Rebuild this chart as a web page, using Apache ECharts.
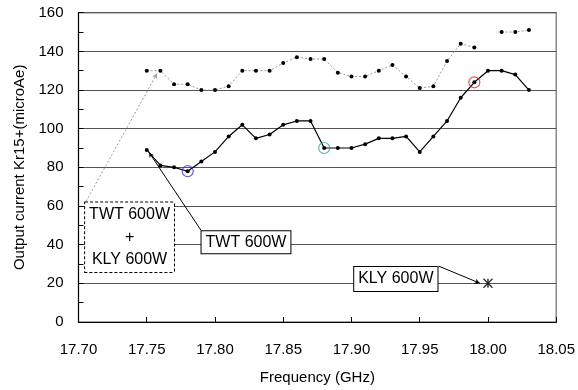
<!DOCTYPE html>
<html><head><meta charset="utf-8">
<script src="https://cdn.jsdelivr.net/npm/echarts@6/dist/echarts.min.js"></script>
<style>html,body{margin:0;padding:0;background:#fff}#c{width:578px;height:390px}</style>
</head><body><div id="c"></div>
<script>
// Frequency (GHz)
const freq = [17.75,17.76,17.77,17.78,17.79,17.80,17.81,17.82,17.83,17.84,17.85,17.86,17.87,17.88,17.89,17.90,17.91,17.92,17.93,17.94,17.95,17.96,17.97,17.98,17.99,18.00,18.01,18.02,18.03];
// TWT 600W (solid)
const twt600 = [89,81,80,78,83,88,96,102,95,97,102,104,104,90,90,90,92,95,95,96,88,96,104,116,124,130,130,128,120];
// TWT 600W + KLY 600W (dotted)
const twtKly600 = [130,130,123,123,120,120,122,130,130,130,134,137,136,136,129,127,127,130,133,127,121,122,135,144,142,null,150,150,151];
// KLY 600W (single point)
const klyFreq = [18.00];
const kly600 = [20];
// circled points on the TWT 600W curve
const highlightIdx = [3, 13, 24];
const highlightColors = ['#3535e0', '#2aa5a5', '#e02424'];

const FONT = 'Liberation Sans, Arial, sans-serif';
const chart = echarts.init(document.getElementById('c'), null, {renderer:'canvas'});

const boxLabel = (text, extra) => Object.assign({
  show: true, position: 'inside', formatter: text, color: '#000',
  fontFamily: FONT, fontSize: 16, backgroundColor: '#fff',
  borderColor: '#000', borderWidth: 1, padding: [3, 4]
}, extra || {});

chart.setOption({
  animation: false,
  backgroundColor: '#fff',
  grid: {left: 78.5, right: 21.5, top: 12.7, bottom: 67, show: true, borderColor: '#8a8a8a', borderWidth: 1.5},
  xAxis: {
    type: 'value', min: 17.70, max: 18.05, interval: 0.05,
    name: 'Frequency (GHz)', nameLocation: 'middle', nameGap: 48,
    nameTextStyle: {fontFamily: FONT, fontSize: 15, color: '#000'},
    axisLine: {lineStyle: {color: '#000', width: 1}},
    axisTick: {inside: true, length: 5, lineStyle: {color: '#000'}},
    axisLabel: {fontFamily: FONT, fontSize: 15, color: '#000', margin: 20, formatter: v => v.toFixed(2)},
    splitLine: {show: false}
  },
  yAxis: {
    type: 'value', min: 0, max: 160, interval: 20,
    name: 'Output current Kr15+(microAe)', nameLocation: 'middle', nameGap: 41,
    nameTextStyle: {fontFamily: FONT, fontSize: 15, color: '#000'},
    axisLine: {show: true, lineStyle: {color: '#000', width: 1}},
    axisTick: {show: true, inside: true, length: 5, lineStyle: {color: '#000'}},
    minorTick: {show: true, splitNumber: 2, length: 5, lineStyle: {color: '#000'}},
    axisLabel: {fontFamily: FONT, fontSize: 15, color: '#000', margin: 15},
    splitLine: {show: true, lineStyle: {color: '#555', width: 1}}
  },
  series: [
    {
      name: 'TWT 600W + KLY 600W', type: 'line',
      data: freq.map((f, i) => [f, twtKly600[i]]),
      connectNulls: false,
      symbol: 'circle', symbolSize: 4,
      itemStyle: {color: '#000'},
      lineStyle: {color: '#999', width: 1, type: [2, 2]},
      z: 3
    },
    {
      name: 'TWT 600W', type: 'line',
      data: freq.map((f, i) => [f, twt600[i]]),
      symbol: 'circle', symbolSize: 4,
      itemStyle: {color: '#000'},
      lineStyle: {color: '#000', width: 1.2},
      z: 4,
      markLine: {
        silent: true, symbol: ['none', 'arrow'], symbolSize: [4, 5],
        label: {show: false},
        data: [
          [{coord: [17.7897, 47.5], itemStyle: {color: '#000'}, lineStyle: {color: '#000', width: 1, type: 'solid'}}, {coord: [17.7517, 87.7]}],
          [{coord: [17.7056, 62.5], itemStyle: {color: '#000'}, lineStyle: {color: '#999', width: 1, type: [2, 2]}}, {coord: [17.7575, 128.5]}],
          [{coord: [17.9639, 28.9], itemStyle: {color: '#000'}, lineStyle: {color: '#000', width: 1, type: 'solid'}}, {coord: [17.994, 20.1]}]
        ]
      },
      markPoint: {
        silent: true, symbol: 'circle', symbolSize: 0,
        data: [
          {coord: [17.8227, 41.3], label: boxLabel('TWT 600W', {padding: [3, 4]})},
          {coord: [17.9325, 22.2], label: boxLabel('KLY 600W', {padding: [4, 4]})},
          {coord: [17.7374, 43.9], label: boxLabel('TWT 600W\n+\nKLY 600W', {padding: [1, 4], lineHeight: 22.5, align: 'center', borderType: [3, 2]})}
        ]
      }
    },
    {
      name: 'KLY 600W', type: 'scatter',
      data: klyFreq.map((f, i) => [f, kly600[i]]),
      symbol: 'path://M0,0L10,10M10,0L0,10M5,0L5,10', symbolSize: 9,
      itemStyle: {color: 'none', borderColor: '#000', borderWidth: 1.4},
      z: 5
    },
    {
      name: 'highlight', type: 'scatter',
      data: highlightIdx.map((k, j) => ({value: [freq[k], twt600[k]], itemStyle: {borderColor: highlightColors[j]}})),
      symbol: 'circle', symbolSize: 11,
      itemStyle: {color: 'rgba(0,0,0,0)', borderWidth: 1.2},
      z: 6
    }
  ]
});
</script></body></html>
